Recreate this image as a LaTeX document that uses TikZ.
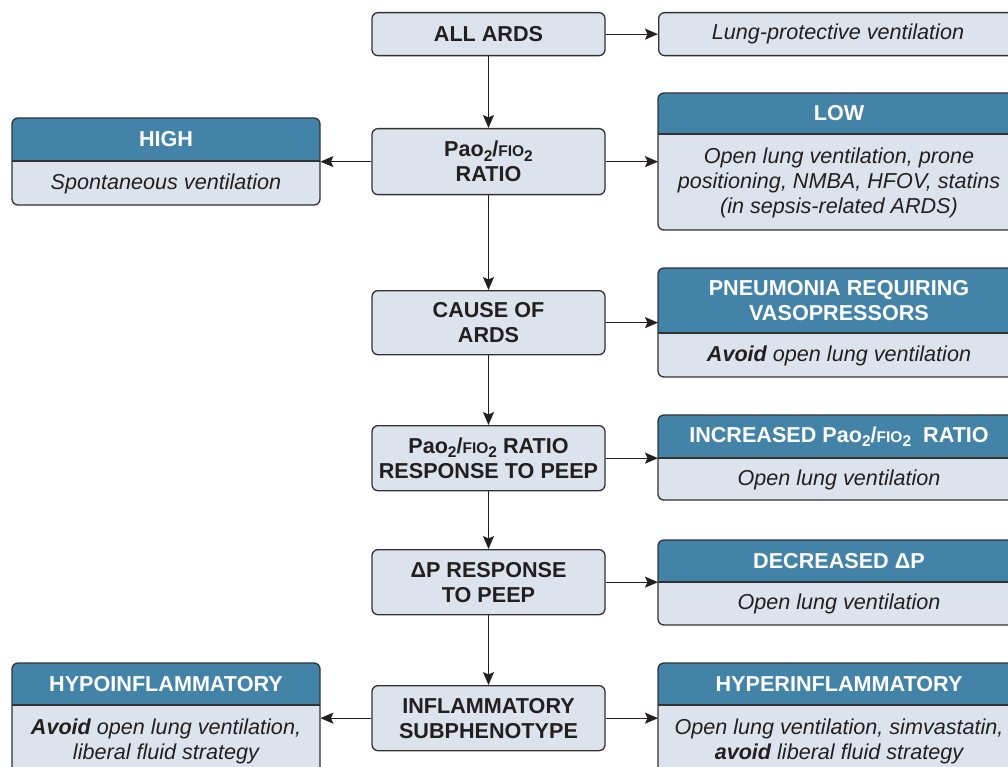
\documentclass[tikz,border=0pt]{standalone}
\usepackage{fontspec}
\setmainfont{Liberation Sans}
\usetikzlibrary{arrows.meta}
\definecolor{headc}{RGB}{67,131,168}
\definecolor{bodyc}{RGB}{221,227,236}
\definecolor{edgec}{RGB}{50,50,50}
\definecolor{inkc}{RGB}{35,31,32}
\newcommand\subtwo{\raisebox{-4.5pt}{\fontsize{15.5}{15.5}\selectfont 2}}
\newcommand\pfratio{Pao\subtwo/{\fontsize{15.5}{15.5}\selectfont FIO}\subtwo}
% center box: name, ytop, ybot, text
\newcommand\cbox[4]{%
  \node[border, fill=bodyc, minimum width=233pt, minimum height={#3-#2}, anchor=north, inner sep=0pt] (#1) at (488.5,#2) {};
  \node[ctext] (#1t) at (#1.center) {#4};}
% two-part box: name, xleft, xright, ytop, ymid, ybot, header, body
\newcommand\tbox[8]{%
  \node[fill=bodyc, rounded corners=6pt, minimum width={#3-#2}, minimum height={#6-#4}, anchor=north west, inner sep=0pt] (#1) at (#2,#4) {};
  \begin{scope}
    \clip[rounded corners=6pt] (#2,#4) rectangle (#3,#6);
    \fill[headc] (#2,#4) rectangle (#3,#5);
  \end{scope}
  \draw[draw=edgec, line width=1.3pt] (#2,#5) -- (#3,#5);
  \draw[border] (#2,#4) rectangle (#3,#6);
  \node[htext] (#1h) at ({(#2+#3)/2},{(#4+#5)/2}) {#7};
  \node[btext] (#1b) at ({(#2+#3)/2},{(#5+#6)/2+0.5}) {#8};}
\begin{document}
\begin{tikzpicture}[x=1pt,y=-1pt,
  border/.style={draw=edgec, line width=1.3pt, rounded corners=6pt},
  ctext/.style={align=center, text=inkc, font=\fontsize{21.6}{25}\selectfont\bfseries},
  htext/.style={align=center, text=white, font=\fontsize{21.6}{25}\selectfont\bfseries},
  btext/.style={align=center, text=inkc, font=\fontsize{21.6}{25}\selectfont\itshape},
  arr/.style={draw=inkc, line width=1.2pt, -{Stealth[length=13pt,width=11pt,inset=2.5pt]}},
]
\useasboundingbox (0,0) rectangle (1008,767);

% center column
\cbox{all}{12}{55}{ALL ARDS}
\cbox{pf}{128}{194}{\pfratio\\RATIO}
\cbox{cause}{290}{354}{CAUSE OF\\ARDS}
\cbox{resp}{425}{490}{\pfratio{} RATIO\\RESPONSE TO PEEP}
\cbox{dp}{549}{614}{ΔP RESPONSE\\TO PEEP}
\cbox{infl}{685}{750}{INFLAMMATORY\\SUBPHENOTYPE}

% single right box
\node[border, fill=bodyc, minimum width=362pt, minimum height=43pt, anchor=north west, inner sep=0pt] (lpv) at (658,12) {};
\node[btext] (lpvt) at (838,34) {Lung-protective ventilation};

% two-part boxes
\tbox{high}{12}{320}{118}{161}{205}{HIGH}{Spontaneous ventilation}
\tbox{low}{658}{1020}{93}{134}{230}{LOW}{Open lung ventilation, prone\\positioning, NMBA, HFOV, statins\\(in sepsis-related ARDS)}
\tbox{pneu}{658}{1020}{268}{333}{377}{PNEUMONIA REQUIRING\\VASOPRESSORS}{{\bfseries Avoid} open lung ventilation}
\tbox{inc}{658}{1020}{415}{458}{500}{INCREASED \pfratio\ \ RATIO}{Open lung ventilation}
\tbox{dec}{658}{1020}{540}{582}{625}{DECREASED ΔP}{Open lung ventilation}
\tbox{hyper}{658}{1020}{663}{705}{776}{HYPERINFLAMMATORY}{Open lung ventilation, simvastatin,\\{\bfseries avoid} liberal fluid strategy}
\tbox{hypo}{12}{320}{663}{705}{776}{HYPOINFLAMMATORY}{{\bfseries Avoid} open lung ventilation,\\liberal fluid strategy}

% vertical connectors
\draw[arr] (all.south) -- (pf.north);
\draw[arr] (pf.south) -- (cause.north);
\draw[arr] (cause.south) -- (resp.north);
\draw[arr] (resp.south) -- (dp.north);
\draw[arr] (dp.south) -- (infl.north);

% horizontal connectors
\draw[arr] (all.east) -- (all.east -| lpv.west);
\draw[arr] (pf.east) -- (pf.east -| low.west);
\draw[arr] (pf.west) -- (pf.west -| high.east);
\draw[arr] (cause.east) -- (cause.east -| pneu.west);
\draw[arr] (resp.east) -- (resp.east -| inc.west);
\draw[arr] (dp.east) -- (dp.east -| dec.west);
\draw[arr] (infl.east) -- (infl.east -| hyper.west);
\draw[arr] (infl.west) -- (infl.west -| hypo.east);
\end{tikzpicture}
\end{document}
